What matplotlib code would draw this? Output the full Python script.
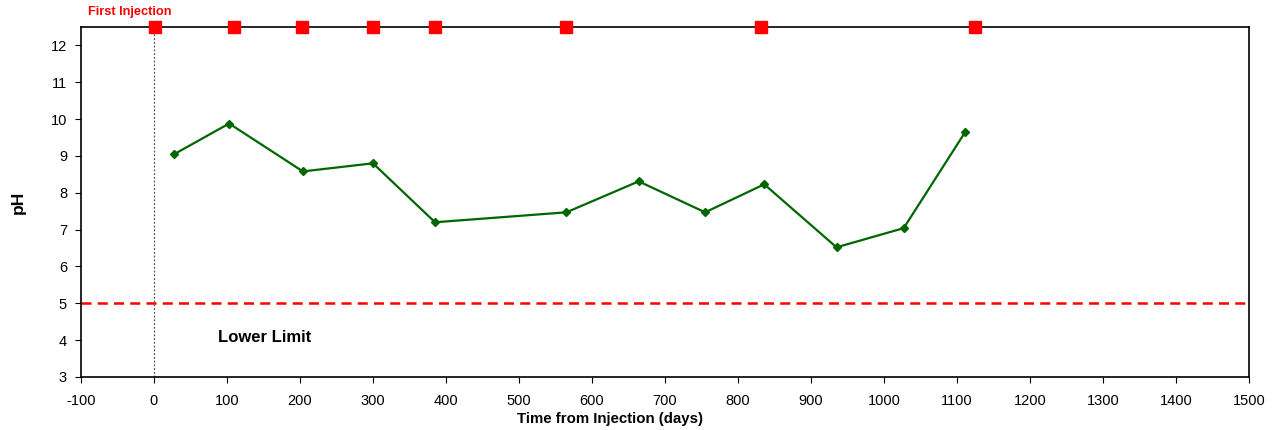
import matplotlib
matplotlib.use("Agg")
import matplotlib.pyplot as plt

plt.rcParams['font.family'] = ['Liberation Sans', 'DejaVu Sans']
plt.rcParams['axes.unicode_minus'] = False

# pH readings
days = [27, 103, 204, 300, 385, 565, 664, 755, 836, 935, 1027, 1111]
ph = [9.04, 9.88, 8.58, 8.80, 7.20, 7.47, 8.31, 7.47, 8.23, 6.52, 7.04, 9.64]

# injection events (drawn on top edge)
inj_days = [1, 109, 203, 300, 385, 565, 832, 1124]
inj_level = 12.5

lower_limit = 5

fig = plt.figure(figsize=(12.75, 4.3), dpi=100)
ax = fig.add_axes([0.0635, 0.1233, 0.9161, 0.8139])

ax.axhline(lower_limit, color='#ff0000', ls=(0, (4, 2.5)), lw=1.8, zorder=2)
ax.axvline(0, color='#555555', ls=(0, (1.5, 1.5)), lw=0.9, zorder=2)

ax.plot(days, ph, color='#006600', lw=1.6, marker='D', ms=4.5, zorder=3)
ax.plot(inj_days, [inj_level] * len(inj_days), ls='none', marker='s', ms=8,
        color='#ff0000', clip_on=False, zorder=5)

ax.text(88, 4.08, 'Lower Limit', fontsize=12, fontweight='bold', va='center')
ax.text(-91, 12.9, 'First Injection', fontsize=9.2, fontweight='bold',
        color='#ff0000', va='center', ha='left')

ax.set_xlim(-100, 1500)
ax.set_ylim(3, 12.5)
ax.set_xticks(range(-100, 1501, 100))
ax.set_yticks(range(3, 13))
ax.tick_params(labelsize=10.5, direction='out', length=4, width=0.8, colors='black')
ax.tick_params(axis='x', pad=8)
ax.tick_params(axis='y', pad=6)

ax.set_xlabel('Time from Injection (days)', fontsize=10.8, fontweight='bold')
ax.xaxis.set_label_coords(0.453, -0.101)
ax.set_ylabel('pH', fontsize=12.5, fontweight='bold')
ax.yaxis.set_label_coords(-0.047, 0.5)

for s in ax.spines.values():
    s.set_linewidth(1.2)

fig.savefig('out.png', dpi=100)
